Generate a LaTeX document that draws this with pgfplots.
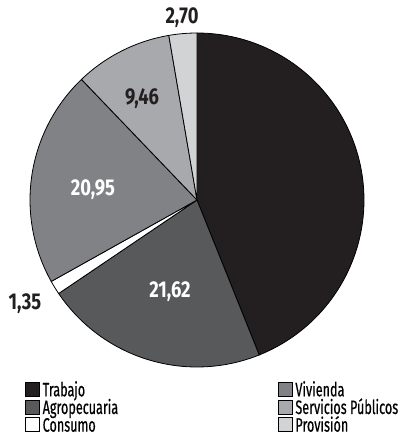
\documentclass[border=0pt]{standalone}
\usepackage{fontspec}
\setmainfont{Fira Sans}[FakeStretch=0.65, FakeBold=0.5]
\newfontfamily\numfont{Fira Sans}[FakeStretch=0.8]
\usepackage{pgfplots}
\pgfplotsset{compat=1.18}
\definecolor{trab}{HTML}{231F20}
\definecolor{agro}{HTML}{58595B}
\definecolor{vivi}{HTML}{808285}
\definecolor{serv}{HTML}{A7A9AC}
\definecolor{prov}{HTML}{D1D3D4}
\begin{document}
\begin{tikzpicture}
\begin{axis}[
 width=403bp, height=441bp, scale only axis,
 xmin=0,xmax=403,ymin=0,ymax=441, hide axis, clip=false,
 legend columns=2,
 legend style={draw=none, fill=none, at={(axis cs:25,59)}, anchor=north west,
   inner sep=0pt, outer sep=0pt, font=\fontsize{19.5}{17.3}\selectfont,
   nodes={inner sep=0pt, text height=14bp, text depth=3.3bp, anchor=base west}, row sep=0pt,
   /tikz/every odd column/.append style={column sep=3bp},
   /tikz/every even column/.append style={column sep=0bp}},
 legend image code/.code={\draw[#1, draw=black, line width=0.7bp] (0bp,0bp) rectangle (14bp,14bp);},
]
% Trabajo 43.92, Agropecuaria 21.62, Consumo 1.35, Vivienda 20.95, Servicios 9.46, Provision 2.70
\addplot[fill=trab, draw=black, line width=0.8bp, domain=-68.112:90, samples=90, forget plot] ({197+167*cos(x)},{241+167*sin(x)}) -- (197,241) -- cycle;
\addplot[fill=agro, draw=black, line width=0.8bp, domain=-145.944:-68.112, samples=50, forget plot] ({197+167*cos(x)},{241+167*sin(x)}) -- (197,241) -- cycle;
\addplot[fill=white, draw=black, line width=0.8bp, domain=-150.804:-145.944, samples=5, forget plot] ({197+167*cos(x)},{241+167*sin(x)}) -- (197,241) -- cycle;
\addplot[fill=vivi, draw=black, line width=0.8bp, domain=-226.224:-150.804, samples=50, forget plot] ({197+167*cos(x)},{241+167*sin(x)}) -- (197,241) -- cycle;
\addplot[fill=serv, draw=black, line width=0.8bp, domain=-260.28:-226.224, samples=25, forget plot] ({197+167*cos(x)},{241+167*sin(x)}) -- (197,241) -- cycle;
\addplot[fill=prov, draw=black, line width=0.8bp, domain=-270:-260.28, samples=8, forget plot] ({197+167*cos(x)},{241+167*sin(x)}) -- (197,241) -- cycle;

\node[font=\numfont\bfseries\fontsize{23}{23}\selectfont, text=white] at (axis cs:170,149) {21,62};
\node[font=\numfont\bfseries\fontsize{23}{23}\selectfont, text=white] at (axis cs:93,251) {20,95};
\node[font=\numfont\bfseries\fontsize{23}{23}\selectfont, text=trab] at (axis cs:142,342) {9,46};
\node[font=\numfont\bfseries\fontsize{23}{23}\selectfont, text=trab] at (axis cs:182,423) {2,70};
\node[font=\numfont\bfseries\fontsize{23}{23}\selectfont, text=trab] at (axis cs:25,137) {1,35};

\addlegendimage{fill=trab} \addlegendentry{\makebox[235bp][l]{Trabajo}}
\addlegendimage{fill=vivi} \addlegendentry{Vivienda}
\addlegendimage{fill=agro} \addlegendentry{\makebox[235bp][l]{Agropecuaria}}
\addlegendimage{fill=serv} \addlegendentry{Servicios Públicos}
\addlegendimage{fill=white} \addlegendentry{\makebox[235bp][l]{Consumo}}
\addlegendimage{fill=prov} \addlegendentry{Provisión}
\end{axis}
\pgfresetboundingbox
\useasboundingbox (0,0) rectangle (403bp,441bp);
\end{tikzpicture}
\end{document}
